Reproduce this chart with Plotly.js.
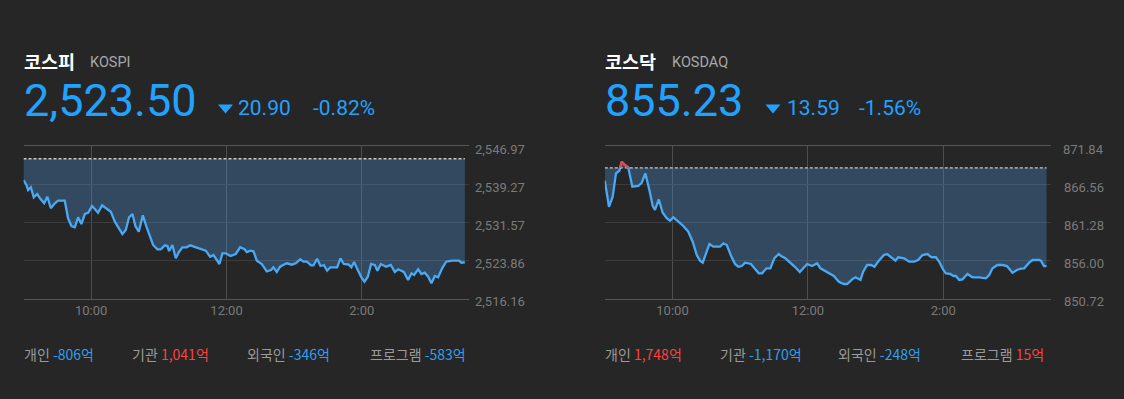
<!DOCTYPE html>
<html>
<head>
<meta charset="utf-8">
<script src="https://cdn.plot.ly/plotly-3.0.1.min.js"></script>
<style>
html,body{margin:0;padding:0;background:#262626;}
#chart{width:1124px;height:399px;}
</style>
</head>
<body>
<div id="chart"></div>
<script>
// ---- Data (minutes after 09:00, index value) ----
const kospiMin = [0,2.6,4.1,6.5,9.1,12.1,15.3,18.3,21.2,24.2,
27.8,30.7,36.6,39.5,42.5,45.5,48.4,51.3,54.4,57.3,
60.8,66.1,69.7,74.4,77.4,81.0,84.5,87.7,90.7,93.6,
96.6,99.2,102.2,105.8,109.0,112.0,114.9,118.7,121.7,125.3,
127.6,129.1,132.0,135.0,138.0,140.9,144.8,147.7,152.2,157.5,
161.6,165.5,168.4,171.4,173.7,176.4,179.4,183.5,188.2,192.1,
195.9,198.0,200.9,203.9,206.9,211.3,215.7,219.5,221.6,224.6,
227.5,230.5,233.5,237.9,241.4,245.3,248.2,251.2,255.0,257.1,
260.3,263.3,266.3,269.2,272.1,278.1,281.0,284.0,288.4,290.7,
293.1,296.7,299.6,302.3,305.3,308.2,311.5,313.8,316.8,321.5,
325.7,329.2,332.2,337.2,341.0,344.0,346.3,349.9,352.8,355.8,
358.8,361.7,364.7,367.6,371.2,374.7,380.0,386.0,388.3,391.3];
const kospiVal = [2540.11,2539.10,2538.09,2538.64,2536.62,2537.29,2536.22,2535.41,2536.74,2534.40,
2535.41,2535.93,2535.93,2532.38,2530.83,2530.57,2532.58,2531.23,2533.25,2533.51,
2534.86,2533.51,2535.01,2534.20,2533.71,2531.70,2530.49,2529.21,2530.02,2532.58,
2533.25,2530.83,2529.68,2532.99,2530.69,2528.67,2527.00,2526.13,2526.13,2526.93,
2526.79,2525.78,2527.00,2524.31,2525.64,2526.53,2526.53,2526.93,2526.53,2526.13,
2525.85,2524.63,2524.98,2523.97,2523.16,2525.32,2525.32,2524.78,2525.18,2526.53,
2526.13,2525.58,2525.85,2525.72,2523.83,2523.16,2521.69,2521.95,2522.50,2521.55,
2522.62,2523.02,2523.30,2523.02,2523.30,2524.11,2523.63,2523.63,2522.90,2522.90,
2524.23,2522.76,2522.96,2521.81,2522.50,2522.50,2524.31,2523.16,2523.02,2522.50,
2523.56,2521.81,2520.48,2519.59,2520.60,2523.16,2522.96,2521.81,2523.16,2522.62,
2522.96,2521.55,2522.09,2521.55,2519.93,2521.28,2520.94,2522.09,2521.14,2521.41,
2520.60,2519.27,2520.74,2520.48,2522.29,2523.63,2523.83,2523.83,2523.42,2523.50];
const kospiPrevClose = 2544.40;
const kospiTicks = [2516.16,2523.86,2531.57,2539.27,2546.97];

const kosdaqMin = [0,3.7,7.0,9.9,12.9,15.0,17.9,20.8,24.4,29.7,
32.7,35.9,39.5,42.5,44.5,47.8,51.3,54.9,57.8,60.7,
65.2,69.6,74.0,77.9,81.5,84.4,86.8,89.7,92.7,96.2,
102.1,105.1,108.1,111.6,115.4,118.4,121.4,124.3,129.6,132.6,
136.5,139.4,143.2,146.7,150.3,154.2,156.2,160.0,164.5,168.9,
172.8,176.4,179.3,183.7,188.2,191.1,197.0,203.0,207.4,211.8,
214.8,219.2,222.1,226.6,229.0,232.5,236.0,239.0,242.9,247.3,
250.2,253.8,257.6,260.0,265.3,269.7,274.2,277.7,281.5,286.0,
289.5,293.4,296.3,300.1,302.3,306.1,309.0,311.1,314.1,317.0,
321.4,325.9,331.8,337.7,340.7,343.6,348.0,352.5,356.4,361.3,
365.2,368.8,371.7,376.1,379.1,385.0,386.5,389.2,391.5];
const kosdaqVal = [867.04,863.44,864.83,868.06,868.42,869.67,869.21,868.89,866.21,866.31,
866.76,868.06,865.75,863.54,862.99,864.47,862.61,861.84,861.51,861.98,
861.37,860.78,859.99,858.60,856.76,855.98,855.70,857.08,858.29,857.91,
857.91,858.38,858.15,856.76,855.52,855.15,855.24,855.70,855.52,854.92,
854.23,854.23,854.92,854.92,856.31,856.90,856.63,856.31,855.70,855.06,
854.41,855.06,855.52,855.24,855.62,854.92,854.45,853.86,853.07,852.75,
852.75,853.40,853.68,853.31,854.45,855.38,855.38,855.15,855.98,856.76,
856.90,856.45,855.98,856.45,856.31,855.84,855.84,856.07,856.76,856.90,
856.45,856.45,855.84,854.69,854.23,854.14,853.86,853.86,853.31,853.40,
854.14,853.68,853.68,853.54,854.00,854.92,855.38,855.38,855.24,854.32,
854.69,854.87,854.92,855.70,856.07,856.07,855.98,855.24,855.23];
const kosdaqPrevClose = 868.82;
const kosdaqTicks = [850.72,856.00,861.28,866.56,871.84];

const timeTickVals = [60,180,300];
const timeTickText = ['10:00','12:00','2:00'];

const kospiHeader = {name:'코스피', code:'KOSPI', price:'2,523.50', change:'20.90', pct:'-0.82%'};
const kosdaqHeader = {name:'코스닥', code:'KOSDAQ', price:'855.23', change:'13.59', pct:'-1.56%'};

const kospiFlows = [['개인','-806억'],['기관','1,041억'],['외국인','-346억'],['프로그램','-583억']];
const kosdaqFlows = [['개인','1,748억'],['기관','-1,170억'],['외국인','-248억'],['프로그램','15억']];

// ---- Styling ----
const W = 1124, H = 399;
const BG = '#262626';
const LINE = '#4aa9f4';
const FILL = 'rgba(78,141,204,0.35)';
const UP = '#ff3b3b';
const BLUE = '#22a2ff';
const FONT = "Roboto, 'Noto Sans CJK KR', sans-serif";
const KFONT = "'Noto Sans CJK KR', Roboto, sans-serif";

function aboveSegments(xs, ys, base){
  const segs = []; let cur = null;
  for (let i=0;i<xs.length;i++){
    const above = ys[i] > base;
    if (i>0){
      const pa = ys[i-1] > base;
      if (pa !== above){
        const f = (base - ys[i-1])/(ys[i]-ys[i-1]);
        const xc = xs[i-1] + f*(xs[i]-xs[i-1]);
        if (above){ cur = {x:[xc], y:[base]}; }
        else if (cur){ cur.x.push(xc); cur.y.push(base); segs.push(cur); cur=null; }
      }
    }
    if (above){ if(!cur) cur={x:[],y:[]}; cur.x.push(xs[i]); cur.y.push(ys[i]); }
  }
  if (cur) segs.push(cur);
  return segs;
}

function chartTraces(xs, ys, prev, xa, ya){
  const last = xs[xs.length-1];
  const t = [];
  t.push({x:xs, y:xs.map(()=>prev), xaxis:xa, yaxis:ya, mode:'lines', line:{width:0,color:'rgba(0,0,0,0)'}, hoverinfo:'skip'});
  t.push({x:xs, y:ys, xaxis:xa, yaxis:ya, mode:'lines', fill:'tonexty', fillcolor:FILL, line:{color:LINE,width:2.3}, hoverinfo:'skip'});
  t.push({x:[0,last], y:[prev,prev], xaxis:xa, yaxis:ya, mode:'lines', line:{color:'#c8c8c8',width:1.3,dash:'3px,2px'}, hoverinfo:'skip'});
  aboveSegments(xs, ys, prev).forEach(s=>{
    t.push({x:s.x, y:s.y, xaxis:xa, yaxis:ya, mode:'lines', line:{color:UP,width:2.3}, hoverinfo:'skip'});
  });
  return t;
}

const traces = [].concat(
  chartTraces(kospiMin, kospiVal, kospiPrevClose, 'x', 'y'),
  chartTraces(kosdaqMin, kosdaqVal, kosdaqPrevClose, 'x2', 'y2')
);

const yDom = [(H-298.7)/H, (H-146)/H];
function xAxis(l, r, anchor){
  return {domain:[l/W, r/W], range:[0,395], anchor:anchor, tickvals:timeTickVals, ticktext:timeTickText,
    showgrid:true, gridcolor:'#4e4e4e', gridwidth:1, zeroline:false,
    showline:true, linecolor:'#555', linewidth:1, mirror:true, ticks:'',
    tickfont:{family:FONT,size:13,color:'#7a7a7a'}, fixedrange:true};
}
function yAxis(ticks, anchor){
  return {domain:yDom, range:[ticks[0], ticks[ticks.length-1]], tickvals:ticks,
    side:'right', anchor:anchor, showgrid:true, gridcolor:'#3c3c3c', gridwidth:1, zeroline:false,
    showline:false, ticks:'', showticklabels:false, fixedrange:true};
}

const ann = [];
function txt(px, py, text, size, color, family){
  ann.push({xref:'paper', yref:'paper', x:px/W, y:1-py/H, xanchor:'left', yanchor:'middle',
    text:text, showarrow:false, font:{family:family||FONT, size:size, color:color}, borderpad:0});
}
const fmt = v => v.toLocaleString('en-US',{minimumFractionDigits:2, maximumFractionDigits:2});
function yLabels(ticks, yref, rightPx){
  ticks.forEach(v=>{
    ann.push({xref:'paper', yref:yref, x:rightPx/W, y:v, xanchor:'right', yanchor:'middle', yshift:-3,
      text:fmt(v), showarrow:false, font:{family:FONT,size:13,color:'#7a7a7a'}, borderpad:0});
  });
}
yLabels(kospiTicks, 'y', 525.5);
yLabels(kosdaqTicks, 'y2', 1105);

const shapes = [];
function tri(x0, x1, top, bottom){
  const X = p => (p/W).toFixed(5), Y = p => (1-p/H).toFixed(5);
  shapes.push({type:'path', xref:'paper', yref:'paper',
    path:'M'+X(x0)+','+Y(top)+' L'+X(x1)+','+Y(top)+' L'+X((x0+x1)/2)+','+Y(bottom)+' Z',
    fillcolor:BLUE, line:{width:0}});
}
function header(h, x0, pos){
  txt(x0-1, 61, '<b>'+h.name+'</b>', 18.5, '#ffffff', KFONT);
  txt(pos.code, 62.5, h.code, 14.5, '#a8a8a8');
  txt(x0-1, 101, h.price, 45, BLUE);
  tri(pos.tri, pos.tri+15, 104.5, 113.5);
  txt(pos.chg, 108.5, h.change, 21, BLUE);
  txt(pos.pct, 108.5, h.pct, 21, BLUE);
}
header(kospiHeader, 24, {code:89.5, tri:218, chg:237, pct:312});
header(kosdaqHeader, 605, {code:670.5, tri:765.5, chg:786, pct:858});

function flows(list, xs){
  list.forEach((f,i)=>{
    const c = f[1].trim().startsWith('-') ? '#2f9ff2' : '#ff4040';
    txt(xs[i], 354, f[0]+' <span style="color:'+c+'">'+f[1]+'</span>', 14, '#9a9a9a', KFONT);
  });
}
flows(kospiFlows, [23, 131, 246, 369]);
flows(kosdaqFlows, [604, 719, 837, 960]);

const layout = {
  width:W, height:H, paper_bgcolor:BG, plot_bgcolor:'rgba(0,0,0,0)',
  margin:{l:0,r:0,t:0,b:0}, showlegend:false,
  xaxis:xAxis(23.5,469,'y'), yaxis:yAxis(kospiTicks,'x'),
  xaxis2:xAxis(604.8,1050.5,'y2'), yaxis2:yAxis(kosdaqTicks,'x2'),
  annotations:ann, shapes:shapes, font:{family:FONT}
};

Plotly.newPlot('chart', traces, layout, {staticPlot:true, displayModeBar:false});
</script>
</body>
</html>
